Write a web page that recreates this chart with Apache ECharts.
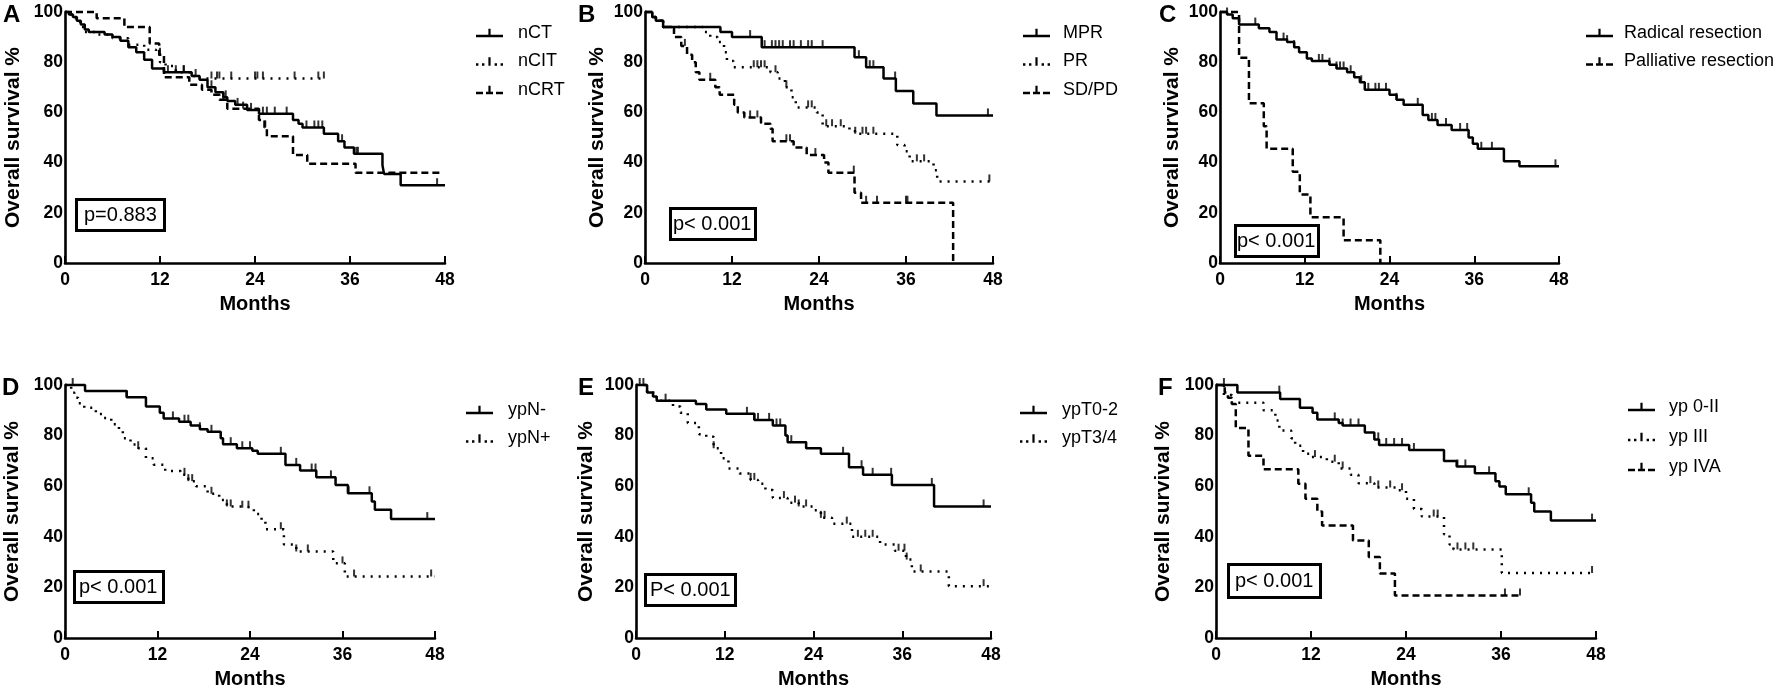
<!DOCTYPE html>
<html><head><meta charset="utf-8">
<script src="https://cdn.jsdelivr.net/npm/echarts@6/dist/echarts.min.js"></script>
<style>html,body{margin:0;padding:0;background:#fff}#c{width:1775px;height:691px}</style>
</head><body><div id="c"></div><script>
// ---------- DATA (months, overall survival %) ----------
const xTicks = [0, 12, 24, 36, 48];
const yTicks = [0, 20, 40, 60, 80, 100];

// Panel A
const A_nCT = [[0,100],[0.5,99],[1,98],[1.5,96.5],[2,95],[2.5,93],[3,92],[5,91],[6,90],[7,88.5],[8,86],[9,84],[10,81],[11,77.5],[12.5,76],[16,74.5],[17,73],[18,70],[19,68],[20,66],[20.5,64.5],[21.5,63],[23,61],[24.5,59.5],[28.8,57],[29.5,55.5],[30,54],[32.7,51.5],[34.5,48.5],[35.3,46],[36.5,43.5],[40.1,39],[40.3,35.5],[42.4,31],[48,31]];
const A_nCT_cens = [13,15,18.5,20.3,21.8,23.5,25,25.5,26.5,28,30.5,31.5,32,32.5,35,36.8,37,47];
const A_nCIT = [[0,100],[0.5,99],[1,97.5],[1.5,96],[2,94],[2.5,92],[4,91],[6,89.5],[8,87],[10,85],[11.5,83],[12,80],[12.7,78.5],[14,76],[16,74.5],[17,73.5],[32.7,73.5]];
const A_nCIT_cens = [14,15,16.5,18.5,19.2,19.5,21,24,24.3,25,29,32,32.7];
const A_nCRT = [[0,100],[4,97.5],[7.5,94],[10.7,87.5],[11.9,83],[12.5,74],[15.7,71],[17.3,69],[18.5,67],[19.5,65],[20.5,61.5],[24.5,57],[25.2,54],[25.5,50.5],[28.8,43],[30.6,39.5],[36.7,36],[47.4,36]];
const A_nCRT_cens = [12,20,22.5,25.3];

// Panel B
const B_MPR = [[0,100],[1,98],[1.5,96.5],[2.5,94],[10.4,92],[12,90],[16.1,86],[28.9,82],[30.5,78],[32.9,73.5],[34.6,68.5],[37,63.5],[40.2,58.8],[48,58.8]];
const B_MPR_cens = [14.5,16.5,17.5,18,18.5,19,20,20.5,21.5,22.5,23,24.5,29.5,31,31.5,34.5,47.3];
const B_PR = [[0,100],[1,98],[1.5,96.5],[2.5,94],[8,92],[9,90],[10,88],[10.9,84],[11.3,80.5],[12.2,78],[17.3,76],[18.3,73.5],[19.3,70],[20.2,66],[20.8,62],[23.7,60],[24.5,54.5],[28.2,52.5],[29,51.5],[34.8,47],[35.8,44.5],[36.5,40.5],[39.8,37],[40.3,32.5],[48,32.5]];
const B_PR_cens = [15,15.5,16,16.5,18,19.5,22.5,23,25,25.8,27,29,30,30.5,31.5,37.5,38.5,47.5];
const B_SDPD = [[0,100],[1,98],[1.5,96.5],[2.5,94],[4,90],[5,86.5],[5.8,83],[6.5,80],[7,76],[7.5,73],[9.7,70],[10.3,67],[12.3,63],[12.8,60],[13.7,58],[16,55.5],[17.3,53.5],[17.6,48.5],[20.5,46],[22.3,43],[24.7,40],[25.3,36],[28.9,28],[29.8,24],[42.5,0]];
const B_SDPD_cens = [5.5,9,14.5,15.5,16,19.5,20,23.5,28.8,30.5,32,36,36.2];

// Panel C
const C_Rad = [[0,100],[1,99],[1.8,97.5],[2.7,95],[5.5,93.5],[7,92],[8,89],[9.5,88],[10.5,86],[11.2,84],[12.3,81.5],[13,80.5],[15.5,79],[16.5,77.5],[18,76],[19,74],[19.8,72],[20.5,69],[24,67],[25,65],[26,63],[28.7,59],[29.5,57],[30.8,55],[32.8,53],[35.2,50],[35.8,47.5],[36.5,45.5],[40.2,40.5],[42.4,38.5],[48,38.5]];
const C_Rad_cens = [1,5,9,9.5,10.5,14,14.5,15.5,16.5,17,17.5,18.5,20,21,22,22.5,23.5,25,28,30,30.5,32,34,35,37,38.5,47.5];
const C_Pal = [[0,100],[2.7,81.8],[4.1,63.6],[6.2,54.5],[6.6,45.5],[10.3,36.4],[11.3,27.3],[12.8,18.2],[17.5,9.1],[22.7,0]];
const C_Pal_cens = [];

// Panel D
const D_Nneg = [[0,100],[2.6,97.6],[8,95.2],[10.5,91.5],[12.3,89],[12.8,86.8],[14.8,85.5],[16.3,84],[17.5,82.5],[18.5,81.5],[20.2,79],[20.5,76.6],[22.3,75],[24.3,74],[25,72.8],[28.6,68.4],[30.5,66.2],[32.6,63.5],[35.1,60.5],[36.7,57.2],[39.8,54],[40.2,50.7],[42.3,47],[48,47]];
const D_Nneg_cens = [1,8,14,15.5,16,17.5,19,21.5,23,24,28,30,32,32.5,34.5,36.8,39.5,47];
const D_Npos = [[0,100],[0.8,97],[1.2,95],[1.7,92.8],[2.5,91],[4,88.5],[5,87],[6,84.5],[7,82],[7.5,79],[8.5,76.5],[9.5,75],[10.5,71],[11.5,68.5],[13,66],[15,64.5],[16,62],[17,60],[18.5,57],[20,54.5],[21,52],[23,51.5],[24.5,49],[25.5,46],[26,43],[28.4,37],[30,34.2],[34.8,29.5],[36.3,24.3],[48,24.3]];
const D_Npos_cens = [9.5,15.5,16,16.5,19,21,21.5,23,23.8,28,30,31.5,36,37.5,47.5];

// Panel E
const E_T02 = [[0,100],[1.5,97],[2.3,95.5],[2.8,93.8],[8.1,92.5],[9.5,90.3],[12.2,88.6],[16,86.2],[18.5,84],[20.2,80],[20.5,77.4],[23,75],[25,72.8],[28.8,67.5],[30.7,64.5],[34.6,60.5],[40.3,52],[48,52]];
const E_T02_cens = [0.5,1,15,16,16.5,18,19,19.5,21,23,28,30.5,32,34.5,40,47];
const E_T34 = [[0,100],[1.5,97],[2.8,93.8],[5,91.5],[6,89],[7,85],[8.5,80.5],[9.5,79.5],[10.5,75],[11.5,71],[12.5,67],[14,65],[15.5,62.5],[16.5,61],[17.5,58.5],[18.5,55.3],[20.5,53.5],[22,52],[24,50.5],[25,47.5],[26.5,45.2],[29.2,40],[33,37],[35,34.5],[36.5,31],[37.3,26.3],[42.3,20.5],[48,20.5]];
const E_T34_cens = [4,10.5,15.5,16,20,21.5,22,23,25,25.5,28.5,30,31,32,35.5,36.3,36.6,38.5,47];

// Panel F
const F_02 = [[0,100],[2.7,97],[8.1,94.5],[10.6,91],[12.2,89],[12.8,86.4],[15.5,85],[16,84],[18.8,81.2],[20,78.5],[20.6,76.3],[24.4,74.3],[28.8,70],[30.4,67.8],[32.7,65.1],[35.3,62],[35.8,59.9],[36.6,56.8],[39.8,53.5],[40.2,50],[42.3,46.4],[48,46.4]];
const F_02_cens = [1,8,15,16,17,18,20.5,21.5,22.5,23.5,25,30.5,31.5,34.5,39.5,47.5];
const F_III = [[0,100],[1,96],[2,93],[6,90],[7.5,86],[8,82],[9.5,79],[10,76],[11,72.8],[12,71.5],[14,69.7],[15.5,67],[17,64.5],[18,61.2],[20,59.5],[23,58.4],[24,55],[25,51],[26,48],[28.8,41],[29.5,37],[30,35],[36.1,25.7],[48,25.7]];
const F_III_cens = [12.5,15,16,19.5,20.5,22,23.5,27.5,28,30.5,31.5,32.5,47.5];
const F_IVA = [[0,100],[1.1,97],[1.5,95],[2,92.5],[2.5,83],[4.1,72],[6,66.7],[10.4,61],[11.3,55],[12.8,50],[13.4,44.5],[17.3,38.5],[19.3,32],[20.7,25.5],[22.6,16.8],[38.4,16.8]];
const F_IVA_cens = [36.5,38.4];

// ---------- STYLE / LAYOUT ----------
const FONT = '"Liberation Sans", Arial, Helvetica, sans-serif';
const ICON = {
  solid: 'path://M0,7h27v2.6h-27z M12.4,1h2.2v6h-2.2z',
  dotted: 'path://M0,7h2.4v2.6h-2.4z M6,7h2.4v2.6h-2.4z M12.4,1h2.2v8.6h-2.2z M18.6,7h2.4v2.6h-2.4z M24.6,7h2.4v2.6h-2.4z',
  dashed: 'path://M0,7h7v2.6h-7z M10,7h7v2.6h-7z M12.4,1h2.2v6h-2.2z M20,7h7v2.6h-7z'
};
const DASH = { solid: 'solid', dotted: [2, 6], dashed: [7, 4] };

const panels = [
  { grid:[65,12,380,251], letter:['A',3,3], p:['p=0.883',76,199,[5,8,5,8]], leg:[471,18,8.5,10], yGap:41,
    curves:[['nCT',A_nCT,A_nCT_cens,'solid'],['nCIT',A_nCIT,A_nCIT_cens,'dotted'],['nCRT',A_nCRT,A_nCRT_cens,'dashed']] },
  { grid:[645,12,348,251], letter:['B',578,3], p:['p< 0.001',670,208,[5,4,5,3]], leg:[1018,18,8.5,8], yGap:37,
    curves:[['MPR',B_MPR,B_MPR_cens,'solid'],['PR',B_PR,B_PR_cens,'dotted'],['SD/PD',B_SDPD,B_SDPD_cens,'dashed']] },
  { grid:[1220,12,339,251], letter:['C',1159,3], p:['p< 0.001',1235,225,[5,3,5,2]], leg:[1581,18,8.5,6], yGap:37,
    curves:[['Radical resection',C_Rad,C_Rad_cens,'solid'],['Palliative resection',C_Pal,C_Pal_cens,'dashed']] },
  { grid:[65,385,370,253], letter:['D',2,376], p:['p< 0.001',74,571,[5,6,5,5]], leg:[461,395,8.5,10], yGap:42,
    curves:[['ypN-',D_Nneg,D_Nneg_cens,'solid'],['ypN+',D_Npos,D_Npos_cens,'dotted']] },
  { grid:[636,385,355,253], letter:['E',578,376], p:['P< 0.001',645,574,[5,5,5,5]], leg:[1015,395,8.5,10], yGap:39,
    curves:[['ypT0-2',E_T02,E_T02_cens,'solid'],['ypT3/4',E_T34,E_T34_cens,'dotted']] },
  { grid:[1216,385,380,253], letter:['F',1158,376], p:['p< 0.001',1228,564,[6,7,6,7]], leg:[1623,392,10,9], yGap:42,
    curves:[['yp 0-II',F_02,F_02_cens,'solid'],['yp III',F_III,F_III_cens,'dotted'],['yp IVA',F_IVA,F_IVA_cens,'dashed']] }
];

function survAt(steps, t) {
  let s = steps[0][1];
  for (const [tt, v] of steps) { if (tt <= t) s = v; else break; }
  return s;
}

const option = { animation:false, backgroundColor:'#fff', grid:[], xAxis:[], yAxis:[], series:[], legend:[], title:[] };

panels.forEach((P, i) => {
  option.grid.push({ left:P.grid[0], top:P.grid[1], width:P.grid[2], height:P.grid[3], containLabel:false });
  option.xAxis.push({
    gridIndex:i, type:'value', min:xTicks[0], max:xTicks[xTicks.length-1], interval:12,
    name:'Months', nameLocation:'middle', nameGap:31,
    nameTextStyle:{ fontFamily:FONT, fontWeight:'bold', fontSize:20, color:'#000' },
    axisLine:{ show:true, onZero:false, lineStyle:{ color:'#000', width:2.6 } },
    axisTick:{ show:true, inside:true, length:7, lineStyle:{ color:'#000', width:2 } },
    axisLabel:{ fontFamily:FONT, fontWeight:'bold', fontSize:17.5, color:'#000', margin:8 },
    splitLine:{ show:false }
  });
  option.yAxis.push({
    gridIndex:i, type:'value', min:yTicks[0], max:yTicks[yTicks.length-1], interval:20,
    name:'Overall survival %', nameLocation:'middle', nameRotate:90, nameGap:P.yGap,
    nameTextStyle:{ fontFamily:FONT, fontWeight:'bold', fontSize:21, color:'#000' },
    axisLine:{ show:true, onZero:false, lineStyle:{ color:'#000', width:2.6 } },
    axisTick:{ show:false },
    axisLabel:{ fontFamily:FONT, fontWeight:'bold', fontSize:17.5, color:'#000', margin:2 },
    splitLine:{ show:false }
  });
  P.curves.forEach(([name, steps, cens, style]) => {
    option.series.push({
      name, type:'line', xAxisIndex:i, yAxisIndex:i, step:'end', data:steps,
      showSymbol:false, symbol:'none', clip:false, silent:true,
      lineStyle:{ color:'#000', width:2.5, type:DASH[style] }, itemStyle:{ color:'#000' }
    });
    option.series.push({
      name: name + ' censored', type:'scatter', xAxisIndex:i, yAxisIndex:i,
      data: cens.map(t => [t, survAt(steps, t)]),
      symbol:'rect', symbolSize:[2, 7], symbolOffset:[0, -3.5], silent:true,
      itemStyle:{ color:'#000' }
    });
  });
  option.legend.push({
    left:P.leg[0], top:P.leg[1], orient:'vertical', itemGap:P.leg[2],
    itemWidth:27, itemHeight:8.6, selectedMode:false,
    itemStyle:{ color:'#000', borderWidth:0 },
    textStyle:{ fontFamily:FONT, fontSize:18, color:'#000', lineHeight:20, padding:[0,0,0,P.leg[3]] },
    data: P.curves.map(c => ({ name:c[0], icon:ICON[c[3]] }))
  });
  option.title.push({
    text:P.letter[0], left:P.letter[1], top:P.letter[2], padding:0,
    textStyle:{ fontFamily:FONT, fontWeight:'bold', fontSize:24, color:'#000' }
  });
  option.title.push({
    text:P.p[0], left:P.p[1], top:P.p[2], padding:P.p[3],
    borderColor:'#000', borderWidth:3,
    textStyle:{ fontFamily:FONT, fontWeight:'normal', fontSize:20, lineHeight:22, color:'#000' }
  });
});

const chart = echarts.init(document.getElementById('c'), null, { renderer:'canvas' });
chart.setOption(option);
</script></body></html>
